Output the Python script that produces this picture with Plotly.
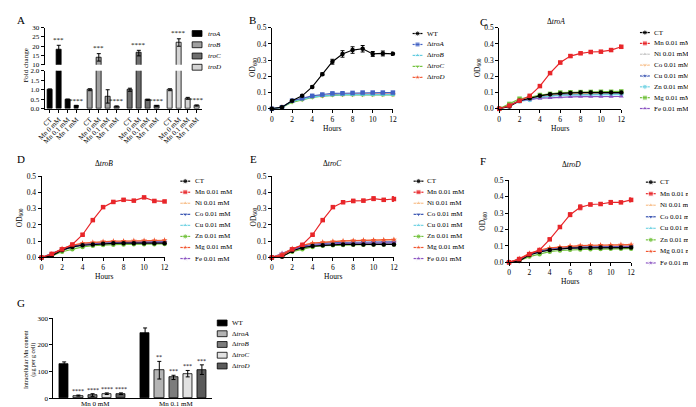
import plotly.graph_objects as go

W, H = 696, 407
FONT = "Liberation Serif"

# ---------------- data ----------------
hours = list(range(13))

# panel A: fold change
genes = ["troA", "troB", "troC", "troD"]
conds_a = ["CT", "Mn 0 mM", "Mn 0.1 mM", "Mn 1 mM"]
fold_troA = [1.0, 18.0, 0.48, 0.15]
fold_troB = [1.0, 14.0, 0.65, 0.12]
fold_troC = [1.0, 16.3, 0.47, 0.15]
fold_troD = [1.0, 22.0, 0.55, 0.17]
err_troA = [0.04, 2.5, 0.03, 0.02]
err_troB = [0.05, 2.0, 0.35, 0.03]
err_troC = [0.08, 1.5, 0.03, 0.02]
err_troD = [0.05, 2.0, 0.05, 0.03]
stars_a = [["", "***", "", "****"], ["", "***", "", "****"],
           ["", "****", "", "****"], ["", "****", "", "****"]]

# panel B: mutant growth
b_names = ["WT", "Δ<i>troA</i>", "Δ<i>troB</i>", "Δ<i>troC</i>", "Δ<i>troD</i>"]
b_wt = [0, 0.01, 0.05, 0.08, 0.135, 0.213, 0.29, 0.338, 0.362, 0.37, 0.338, 0.341, 0.339]
b_wt_err = [0, 0.003, 0.004, 0.005, 0.006, 0.008, 0.015, 0.02, 0.02, 0.02, 0.015, 0.015, 0.01]
b_troA = [0, 0.01, 0.05, 0.065, 0.08, 0.088, 0.095, 0.096, 0.098, 0.1, 0.1, 0.1, 0.1]
b_troB = [0, 0.01, 0.045, 0.06, 0.072, 0.08, 0.085, 0.087, 0.088, 0.088, 0.088, 0.088, 0.088]
b_troC = [0, 0.008, 0.04, 0.055, 0.07, 0.078, 0.083, 0.085, 0.085, 0.085, 0.085, 0.085, 0.085]
b_troD = [0, 0.01, 0.048, 0.06, 0.075, 0.082, 0.088, 0.09, 0.09, 0.09, 0.09, 0.09, 0.09]

metals = ["CT", "Mn 0.01 mM", "Ni 0.01 mM", "Co 0.01 mM", "Cu 0.01 mM",
          "Zn 0.01 mM", "Mg 0.01 mM", "Fe 0.01 mM"]

# panel C: ΔtroA with metals
c_vals = [
    [0, 0.015, 0.05, 0.065, 0.08, 0.09, 0.095, 0.098, 0.1, 0.1, 0.1, 0.1, 0.1],
    [0, 0.02, 0.05, 0.08, 0.14, 0.22, 0.285, 0.325, 0.342, 0.35, 0.352, 0.362, 0.382],
    [0, 0.02, 0.05, 0.06, 0.075, 0.082, 0.088, 0.09, 0.09, 0.092, 0.092, 0.092, 0.093],
    [0, 0.02, 0.052, 0.062, 0.078, 0.085, 0.09, 0.093, 0.095, 0.096, 0.097, 0.098, 0.1],
    [0, 0.018, 0.048, 0.06, 0.072, 0.08, 0.085, 0.087, 0.088, 0.088, 0.089, 0.09, 0.09],
    [0, 0.025, 0.045, 0.055, 0.07, 0.078, 0.083, 0.085, 0.086, 0.087, 0.087, 0.088, 0.088],
    [0, 0.03, 0.062, 0.07, 0.085, 0.092, 0.1, 0.102, 0.103, 0.104, 0.105, 0.105, 0.107],
    [0, 0.022, 0.05, 0.058, 0.065, 0.068, 0.072, 0.074, 0.075, 0.075, 0.075, 0.075, 0.076],
]
c_mn_err = [0, 0.003, 0.004, 0.006, 0.006, 0.006, 0.008, 0.008, 0.006, 0.006, 0.006, 0.006, 0.01]

# panel D: ΔtroB with metals
d_vals = [
    [0, 0.01, 0.045, 0.065, 0.075, 0.08, 0.085, 0.087, 0.088, 0.088, 0.088, 0.088, 0.088],
    [0, 0.022, 0.05, 0.08, 0.14, 0.23, 0.31, 0.342, 0.355, 0.35, 0.37, 0.348, 0.345],
    [0, 0.02, 0.05, 0.07, 0.085, 0.09, 0.095, 0.097, 0.098, 0.1, 0.1, 0.1, 0.1],
    [0, 0.025, 0.05, 0.068, 0.08, 0.085, 0.09, 0.092, 0.093, 0.094, 0.095, 0.095, 0.096],
    [0, 0.02, 0.045, 0.06, 0.075, 0.08, 0.085, 0.087, 0.088, 0.09, 0.09, 0.09, 0.09],
    [0, 0.01, 0.035, 0.05, 0.065, 0.072, 0.077, 0.079, 0.08, 0.081, 0.082, 0.082, 0.083],
    [0, 0.02, 0.055, 0.075, 0.088, 0.093, 0.098, 0.1, 0.101, 0.103, 0.104, 0.105, 0.106],
    [0, 0.015, 0.048, 0.065, 0.078, 0.083, 0.088, 0.09, 0.091, 0.092, 0.092, 0.093, 0.093],
]
d_mn_err = [0, 0.003, 0.004, 0.005, 0.006, 0.006, 0.006, 0.006, 0.008, 0.006, 0.006, 0.006, 0.006]

# panel E: ΔtroC with metals
e_vals = [
    [0, 0.005, 0.04, 0.06, 0.07, 0.075, 0.078, 0.08, 0.08, 0.08, 0.08, 0.08, 0.08],
    [0, 0.01, 0.05, 0.078, 0.14, 0.23, 0.31, 0.34, 0.348, 0.35, 0.362, 0.355, 0.36],
    [0, 0.02, 0.052, 0.075, 0.088, 0.093, 0.098, 0.1, 0.103, 0.105, 0.107, 0.108, 0.11],
    [0, 0.018, 0.05, 0.068, 0.08, 0.086, 0.09, 0.092, 0.093, 0.094, 0.095, 0.095, 0.096],
    [0, 0.015, 0.045, 0.062, 0.075, 0.08, 0.085, 0.087, 0.088, 0.089, 0.09, 0.09, 0.09],
    [0, 0.008, 0.035, 0.05, 0.065, 0.072, 0.075, 0.077, 0.078, 0.079, 0.08, 0.08, 0.08],
    [0, 0.02, 0.055, 0.075, 0.088, 0.094, 0.099, 0.102, 0.104, 0.106, 0.107, 0.108, 0.11],
    [0, 0.025, 0.05, 0.065, 0.075, 0.08, 0.085, 0.087, 0.088, 0.089, 0.09, 0.09, 0.09],
]
e_mn_err = [0, 0.003, 0.004, 0.006, 0.006, 0.006, 0.006, 0.008, 0.01, 0.008, 0.012, 0.008, 0.015]

# panel F: ΔtroD with metals
f_vals = [
    [0, 0.008, 0.045, 0.063, 0.075, 0.082, 0.087, 0.088, 0.089, 0.09, 0.09, 0.09, 0.09],
    [0, 0.02, 0.05, 0.075, 0.14, 0.215, 0.29, 0.335, 0.352, 0.355, 0.365, 0.365, 0.38],
    [0, 0.02, 0.052, 0.07, 0.085, 0.09, 0.095, 0.098, 0.1, 0.101, 0.102, 0.103, 0.105],
    [0, 0.018, 0.05, 0.068, 0.08, 0.086, 0.09, 0.093, 0.094, 0.095, 0.096, 0.097, 0.098],
    [0, 0.015, 0.045, 0.062, 0.075, 0.082, 0.086, 0.088, 0.09, 0.09, 0.091, 0.092, 0.092],
    [0, 0.01, 0.035, 0.05, 0.065, 0.072, 0.076, 0.078, 0.08, 0.081, 0.082, 0.082, 0.083],
    [0, 0.022, 0.055, 0.075, 0.088, 0.094, 0.1, 0.102, 0.104, 0.105, 0.106, 0.107, 0.108],
    [0, 0.018, 0.048, 0.065, 0.078, 0.083, 0.088, 0.09, 0.091, 0.092, 0.093, 0.093, 0.094],
]
f_mn_err = [0, 0.003, 0.004, 0.006, 0.006, 0.008, 0.012, 0.015, 0.008, 0.008, 0.012, 0.006, 0.012]

# panel G: intracellular Mn
g_groups = ["Mn 0 mM", "Mn 0.1 mM"]
g_names = ["WT", "Δ<i>troA</i>", "Δ<i>troB</i>", "Δ<i>troC</i>", "Δ<i>troD</i>"]
g_wt = [128, 243]
g_troA = [10, 105]
g_troB = [12, 78]
g_troC = [17, 92]
g_troD = [17, 107]
g_wt_err = [8, 20]
g_troA_err = [2, 33]
g_troB_err = [5, 8]
g_troC_err = [3, 12]
g_troD_err = [3, 18]
g_stars = [["", ""], ["****", "**"], ["****", "***"], ["****", "***"], ["****", "***"]]

# ---------------- helpers ----------------
def fx(p):
    return p / W


def fy(p):
    return 1 - p / H


def ax(**kw):
    base = dict(showline=True, linecolor="black", linewidth=1, ticks="outside",
                ticklen=3, tickwidth=1, tickcolor="black", showgrid=False,
                zeroline=False, tickfont=dict(family=FONT, size=7.5, color="black"))
    base.update(kw)
    return base


fig = go.Figure()
annotations = []
shapes = []


def text(x, y, s, size=7.5, xanchor="center", angle=0, yanchor="middle", xref="x8", yref="y9"):
    annotations.append(dict(x=x, y=y, xref=xref, yref=yref, text=s, showarrow=False,
                            xanchor=xanchor, yanchor=yanchor, textangle=angle,
                            borderpad=0, font=dict(family=FONT, size=size, color="black")))


def legend_line(cx, cy, color, symbol, label, tx):
    fig.add_trace(go.Scatter(x=[cx - 5, cx, cx + 5], y=[cy] * 3, mode="lines+markers",
                             line=dict(color=color, width=1.2),
                             marker=dict(symbol=symbol, size=[0, 5, 0], color=color),
                             xaxis="x8", yaxis="y9", showlegend=False, hoverinfo="skip"))
    text(tx, cy, label, size=7, xanchor="left")


def legend_box(cx, cy, color, label, tx, w=10, h=6):
    shapes.append(dict(type="rect", xref="x8", yref="y9", x0=cx - w / 2, x1=cx + w / 2,
                       y0=cy - h / 2, y1=cy + h / 2, fillcolor=color,
                       line=dict(color="black", width=0.8)))
    text(tx, cy, label, size=7, xanchor="left")


# ---------------- panel A ----------------
a_vals = [fold_troA, fold_troB, fold_troC, fold_troD]
a_errs = [err_troA, err_troB, err_troC, err_troD]
a_cols = ["#000000", "#a0a0a0", "#6e6e6e", "#d4d4d4"]
GSTEP = 4.5
a_ticks, a_text = [], []
for g, gene in enumerate(genes):
    xs = [g * GSTEP + i for i in range(4)]
    a_ticks += xs
    a_text += conds_a
    for ya in ["y", "y2"]:
        fig.add_trace(go.Bar(x=xs, y=a_vals[g], width=0.55, xaxis="x", yaxis=ya,
                             marker=dict(color=a_cols[g], line=dict(color="black", width=0.8)),
                             error_y=dict(type="data", array=a_errs[g], color="black",
                                          thickness=1, width=2),
                             showlegend=False))
    for i in range(4):
        if stars_a[g][i]:
            top = a_vals[g][i] + a_errs[g][i]
            text(xs[i], top + (0.3 if top > 2 else 0.0), stars_a[g][i], size=7,
                 yanchor="bottom", xref="x", yref="y2" if top > 2 else "y")
    legend_box(185, 22 + g * 11.5, a_cols[g], "<i>%s</i>" % gene, 195)

layout_axes = {}
layout_axes["xaxis"] = ax(domain=[fx(30), fx(190)], range=[-0.6, 3 * GSTEP + 3.6],
                          anchor="y", tickvals=a_ticks, ticktext=a_text, tickangle=-45,
                          tickfont=dict(family=FONT, size=7, color="black"))
layout_axes["yaxis"] = ax(domain=[fy(99), fy(60)], range=[0, 2], anchor="x",
                          tickvals=[0, 0.5, 1, 1.5, 2], tickformat=".1f",
                          tickfont=dict(family=FONT, size=7, color="black"))
layout_axes["yaxis2"] = ax(domain=[fy(54), fy(16)], range=[10, 30], anchor="x",
                           tickvals=[10, 15, 20, 25, 30],
                           tickfont=dict(family=FONT, size=7, color="black"))
text(11, 55, "Fold change", size=7, angle=-90)

# ---------------- growth panels ----------------
def growth(xn, yn, xdom, ydom, series, names, colors, symbols, errs, leg_x, leg_tx, leg_y0,
           leg_dy, order):
    for k in order:
        fig.add_trace(go.Scatter(x=hours, y=series[k], mode="lines+markers",
                                 line=dict(color=colors[k], width=1.2),
                                 marker=dict(symbol=symbols[k], size=4.5, color=colors[k]),
                                 error_y=dict(type="data", array=errs[k], color=colors[k],
                                              thickness=1, width=2, visible=errs[k] is not None),
                                 xaxis="x%d" % xn, yaxis="y%d" % yn, cliponaxis=False,
                                 showlegend=False))
    for k, name in enumerate(names):
        legend_line(leg_x, leg_y0 + k * leg_dy, colors[k], symbols[k], name, leg_tx)
    layout_axes["xaxis%d" % xn] = ax(domain=[fx(xdom[0]), fx(xdom[1])], range=[0, 12],
                                     anchor="y%d" % yn, tickvals=list(range(0, 13, 2)))
    layout_axes["yaxis%d" % yn] = ax(domain=[fy(ydom[0]), fy(ydom[1])], range=[0, 0.5],
                                     anchor="x%d" % xn, tickvals=[0, 0.1, 0.2, 0.3, 0.4, 0.5],
                                     tickformat=".1f")


b_cols = ["#000000", "#4262c4", "#62cce0", "#72c23c", "#f2552f"]
b_syms = ["circle", "square", "triangle-up", "triangle-down", "star"]
b_series = [b_wt, b_troA, b_troB, b_troC, b_troD]
b_errs = [b_wt_err, [0.004] * 13, None, None, None]
growth(2, 3, (261, 384), (99, 16), b_series, b_names, b_cols, b_syms, b_errs,
       409, 418, 22, 11.2, [4, 3, 2, 1, 0])

c_cols = ["#000000", "#e8262a", "#c8c8c8", "#f8c08c", "#3450b0", "#74d4e4", "#72c23c", "#8a52c2"]
c_syms = ["circle", "square", "triangle-up", "triangle-down", "star", "circle", "square",
          "triangle-up"]
dfe_cols = ["#000000", "#e8262a", "#f8c08c", "#3450b0", "#74d4e4", "#72c23c", "#f2552f", "#8a52c2"]
dfe_syms = ["circle", "square", "triangle-up", "triangle-down", "triangle-up", "circle", "star",
            "star"]
m_order = [2, 3, 4, 5, 7, 6, 0, 1]


def errs_for(mn_err):
    return [None, mn_err, None, None, None, None, None, None]


growth(3, 4, (492, 616), (99, 16), c_vals, metals, c_cols, c_syms, errs_for(c_mn_err),
       640, 648, 21, 11.1, m_order)
growth(4, 5, (27, 152), (251, 168), d_vals, metals, dfe_cols, dfe_syms, errs_for(d_mn_err),
       173, 182, 173, 11.3, m_order)
growth(5, 6, (261, 385), (251, 168), e_vals, metals, dfe_cols, dfe_syms, errs_for(e_mn_err),
       410, 418, 173, 11.3, m_order)
growth(6, 7, (502, 626), (256, 172), f_vals, metals, dfe_cols, dfe_syms, errs_for(f_mn_err),
       646, 654, 174, 11.8, m_order)

for cx, cy in [(322, 119), (554, 119), (90, 270), (323, 270), (564, 276)]:
    text(cx, cy, "Hours")
for cx, cy in [(242, 57), (470, 57), (5, 210), (243, 210), (476, 214)]:
    text(cx, cy, "OD<sub>600</sub>", angle=-90)
text(550, 10, "Δ<i>troA</i>")
text(90, 155, "Δ<i>troB</i>")
text(323, 155, "Δ<i>troC</i>")
text(565, 156, "Δ<i>troD</i>")

# ---------------- panel G ----------------
g_vals = [g_wt, g_troA, g_troB, g_troC, g_troD]
g_errs = [g_wt_err, g_troA_err, g_troB_err, g_troC_err, g_troD_err]
g_cols = ["#000000", "#b4b4b4", "#7c7c7c", "#e2e2e2", "#5a5a5a"]
GG = 5.7
for s in range(5):
    xs = [g * GG + s for g in range(2)]
    fig.add_trace(go.Bar(x=xs, y=g_vals[s], width=0.65, xaxis="x7", yaxis="y8",
                         marker=dict(color=g_cols[s], line=dict(color="black", width=0.8)),
                         error_y=dict(type="data", array=g_errs[s], color="black",
                                      thickness=1, width=2, symmetric=True),
                         showlegend=False))
    for g in range(2):
        if g_stars[s][g]:
            text(xs[g], g_vals[s][g] + g_errs[s][g], g_stars[s][g], size=6,
                 yanchor="bottom", xref="x7", yref="y8")
    legend_box(210.5, 318 + s * 11, g_cols[s], g_names[s], 219)
# group labels sit just under the axis line
for g, lab in enumerate(g_groups):
    text(g * GG + 2.2, 400.5, lab, size=7, xref="x7")
layout_axes["xaxis7"] = ax(domain=[fx(39), fx(200)], range=[-0.76, 10.4], anchor="y8",
                           showticklabels=False, ticks="")
layout_axes["yaxis8"] = ax(domain=[fy(395), fy(313)], range=[0, 300], anchor="x7",
                           tickvals=[0, 100, 200, 300],
                           tickfont=dict(family=FONT, size=7, color="black"))
text(15, 355, "Intracellular Mn content<br>(μg per g cell)", size=6, angle=-90)

# ---------------- panel letters ----------------
for letter, cx, cy in [("A", 6, 8), ("B", 241, 8), ("C", 476, 10), ("D", 6, 150),
                       ("E", 242, 150), ("F", 476, 152), ("G", 6, 298)]:
    text(cx, cy, letter, size=11)

# overlay axes used for legends and free text
layout_axes["xaxis8"] = dict(domain=[0, 1], range=[0, W], visible=False, anchor="y9",
                             fixedrange=True)
layout_axes["yaxis9"] = dict(domain=[0, 1], range=[H, 0], visible=False, anchor="x8",
                             fixedrange=True)

fig.update_layout(width=W, height=H, margin=dict(l=0, r=0, t=0, b=0),
                  plot_bgcolor="rgba(0,0,0,0)", paper_bgcolor="white", bargap=0,
                  font=dict(family=FONT, size=8, color="black"),
                  annotations=annotations, shapes=shapes, **layout_axes)
fig.write_html("out.html")
